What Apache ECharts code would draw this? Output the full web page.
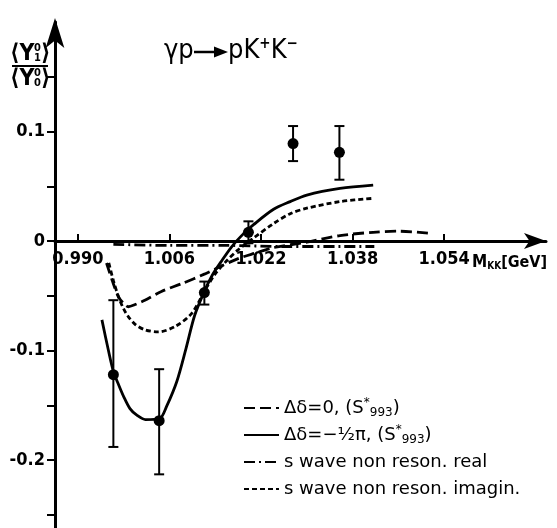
<!DOCTYPE html>
<html><head><meta charset="utf-8">
<script src="https://cdn.jsdelivr.net/npm/echarts@6/dist/echarts.min.js"></script>
<style>html,body{margin:0;padding:0;background:#fff}#c{width:557px;height:528px}</style>
</head><body><div id="c"></div>
<script>
// measured points: <Y1^0>/<Y0^0> vs M_KK [GeV]
const massPoints   = [0.9962, 1.0042, 1.0121, 1.0198, 1.0276, 1.0357];
const ratioValues  = [-0.122, -0.164, -0.047, 0.008, 0.089, 0.081];
const ratioErrLow  = [-0.188, -0.213, -0.058, -0.002, 0.073, 0.056];
const ratioErrHigh = [-0.054, -0.117, -0.037, 0.018, 0.105, 0.105];

// curve: delta = 0 (S*993)  (long dash)
const delta0Mass  = [0.9950,0.9960,0.9971,0.9980,0.9988,1.0000,1.0017,1.0046,1.0081,1.0122,1.0150,1.0180,1.0210,1.0242,1.0300,1.0358,1.0416,1.0460,1.0518];
const delta0Ratio = [-0.020,-0.036,-0.051,-0.057,-0.060,-0.058,-0.054,-0.046,-0.039,-0.030,-0.023,-0.016,-0.011,-0.006,-0.001,0.005,0.008,0.009,0.007];

// curve: delta = -pi/2 (S*993)  (solid)
const deltaHalfPiMass  = [0.9942,0.9953,0.9962,0.9971,0.9980,0.9991,1.0003,1.0018,1.0043,1.0055,1.0073,1.0089,1.0104,1.0121,1.0135,1.0150,1.0169,1.0190,1.0207,1.0242,1.0271,1.0300,1.0358,1.0416];
const deltaHalfPiRatio = [-0.072,-0.099,-0.119,-0.131,-0.142,-0.153,-0.159,-0.163,-0.162,-0.151,-0.128,-0.098,-0.068,-0.046,-0.031,-0.019,-0.005,0.007,0.015,0.029,0.036,0.042,0.048,0.051];

// curve: s wave non reson. real  (dash-dot)
const sRealMass  = [0.9962,1.0060,1.0160,1.0260,1.0360,1.0418];
const sRealRatio = [-0.003,-0.004,-0.004,-0.005,-0.005,-0.005];

// curve: s wave non reson. imagin.  (short dash)
const sImagMass  = [0.9954,0.9962,0.9971,0.9980,0.9988,1.0000,1.0017,1.0040,1.0070,1.0099,1.0122,1.0140,1.0160,1.0180,1.0205,1.0242,1.0271,1.0300,1.0358,1.0416];
const sImagRatio = [-0.020,-0.036,-0.051,-0.062,-0.069,-0.076,-0.081,-0.083,-0.078,-0.066,-0.045,-0.030,-0.018,-0.008,0.002,0.016,0.025,0.030,0.036,0.039];

const xTickValues  = [0.990, 1.006, 1.022, 1.038, 1.054];
const yTickValues  = [-0.25, -0.2, -0.15, -0.1, -0.05, 0, 0.05, 0.1, 0.15];
const yLabelValues = [-0.2, -0.1, 0, 0.1];

const seriesNames = ['delta0', 'deltaHalfPi', 'sReal', 'sImag'];
const legendLabels = {
  delta0: 'Δδ=0, (S{sup|*}{sub|993})',
  deltaHalfPi: 'Δδ=−½π, (S{sup|*}{sub|993})',
  sReal: 's wave non reson. real',
  sImag: 's wave non reson. imagin.'
};

const zip = (a, b) => a.map((v, i) => [v, b[i]]);
const cond = "'DejaVu Sans Condensed','DejaVu Sans',sans-serif";
const textFont = "'DejaVu Sans',sans-serif";

function curve(name, xs, ys, type) {
  return {
    name, type: 'line', data: zip(xs, ys), smooth: 0.3,
    symbol: 'none', showSymbol: false,
    lineStyle: { color: '#000', width: 2.8, type },
    itemStyle: { color: '#000' }, z: 3
  };
}

const Y_MIN = -0.262, Y_MAX = 0.2, GRID_TOP = 22, H = 528;
const zeroOffset = -(H - GRID_TOP) * (0 - Y_MIN) / (Y_MAX - Y_MIN);

const chart = echarts.init(document.getElementById('c'), null, { renderer: 'canvas' });
chart.setOption({
  animation: false,
  backgroundColor: '#fff',
  grid: { left: 55, right: 11, top: GRID_TOP, bottom: 0, containLabel: false, outerBoundsMode: 'none' },
  xAxis: {
    type: 'value', min: 0.986, max: 1.0718, position: 'bottom', offset: zeroOffset,
    axisLine: { show: true, onZero: false, symbol: ['none', 'arrow'], symbolSize: [12, 22],
      lineStyle: { color: '#000', width: 3 } },
    axisTick: { show: true, inside: true, length: 7, customValues: xTickValues,
      lineStyle: { color: '#000', width: 2 } },
    axisLabel: { customValues: xTickValues, formatter: v => v.toFixed(3), margin: 9,
      color: '#000', fontSize: 18, fontWeight: 'bold', fontFamily: cond },
    splitLine: { show: false }
  },
  yAxis: {
    type: 'value', min: Y_MIN, max: Y_MAX,
    axisLine: { show: true, onZero: false, symbol: ['none', 'arrow'], symbolSize: [14, 30],
      symbolOffset: [0, 4], lineStyle: { color: '#000', width: 3 } },
    axisTick: { show: true, inside: false, length: 8, customValues: yTickValues,
      lineStyle: { color: '#000', width: 2 } },
    axisLabel: { customValues: yLabelValues, formatter: v => (Math.abs(v) < 1e-9 ? '0' : String(Number(v.toFixed(1)))),
      margin: 10, color: '#000', fontSize: 18, fontWeight: 'bold', fontFamily: cond },
    splitLine: { show: false }
  },
  legend: {
    data: seriesNames, orient: 'vertical', left: 243, top: 397, padding: 0,
    itemWidth: 35, itemHeight: 14, itemGap: 5, selectedMode: false,
    itemStyle: { color: 'rgba(0,0,0,0)', borderWidth: 0, opacity: 0 },
    formatter: n => legendLabels[n],
    textStyle: { fontFamily: textFont, fontSize: 18, color: '#000', lineHeight: 22,
      rich: {
        sup: { fontFamily: textFont, fontSize: 12, color: '#000', verticalAlign: 'top' },
        sub: { fontFamily: textFont, fontSize: 12, color: '#000', verticalAlign: 'bottom' }
      } }
  },
  graphic: [
    // y-axis name: <Y1^0>/<Y0^0>
    { type: 'text', left: 10, top: 43, style: { text: '⟨Y', font: "bold 23px " + cond, fill: '#000' } },
    { type: 'text', left: 34, top: 43, style: { text: '0', font: "bold 11px " + cond, fill: '#000' } },
    { type: 'text', left: 34, top: 53, style: { text: '1', font: "bold 11px " + cond, fill: '#000' } },
    { type: 'text', left: 41, top: 43, style: { text: '⟩', font: "bold 23px " + cond, fill: '#000' } },
    { type: 'line', shape: { x1: 12, y1: 66, x2: 48, y2: 66 }, style: { stroke: '#000', lineWidth: 2 } },
    { type: 'text', left: 10, top: 68, style: { text: '⟨Y', font: "bold 23px " + cond, fill: '#000' } },
    { type: 'text', left: 34, top: 68, style: { text: '0', font: "bold 11px " + cond, fill: '#000' } },
    { type: 'text', left: 34, top: 78, style: { text: '0', font: "bold 11px " + cond, fill: '#000' } },
    { type: 'text', left: 41, top: 68, style: { text: '⟩', font: "bold 23px " + cond, fill: '#000' } },
    // reaction title
    { type: 'text', left: 164, top: 37, style: { text: 'γp', font: "27px " + cond, fill: '#000' } },
    { type: 'line', shape: { x1: 194, y1: 52, x2: 218, y2: 52 }, style: { stroke: '#000', lineWidth: 2.5 } },
    { type: 'polygon', shape: { points: [[214, 46.5], [228, 52], [214, 57.5]] }, style: { fill: '#000' } },
    { type: 'text', left: 228, top: 37, style: {
        text: '{b|pK}{s|+}{b|K}{s|−}',
        rich: {
          b: { font: "27px " + cond, fill: '#000', lineHeight: 30, verticalAlign: 'top' },
          s: { font: "bold 15px " + cond, fill: '#000', verticalAlign: 'top' }
        } } },
    // x-axis name
    { type: 'text', left: 472, top: 254, style: {
        text: '{m|M}{s|KK}{n|[GeV]}',
        rich: {
          m: { font: "bold 17px " + cond, fill: '#000', lineHeight: 20, verticalAlign: 'bottom' },
          s: { font: "bold 10px " + cond, fill: '#000', verticalAlign: 'bottom' },
          n: { font: "bold 16px " + cond, fill: '#000', verticalAlign: 'bottom' }
        } } }
  ],
  series: [
    curve('delta0', delta0Mass, delta0Ratio, [11, 5]),
    curve('deltaHalfPi', deltaHalfPiMass, deltaHalfPiRatio, 'solid'),
    curve('sReal', sRealMass, sRealRatio, [11, 4, 2, 4]),
    curve('sImag', sImagMass, sImagRatio, [5, 3]),
    {
      name: 'errors', type: 'custom', z: 5,
      data: massPoints.map((m, i) => [m, ratioErrLow[i], ratioErrHigh[i]]),
      encode: { x: 0, y: [1, 2] },
      renderItem(params, api) {
        const x = api.value(0);
        const lo = api.coord([x, api.value(1)]);
        const hi = api.coord([x, api.value(2)]);
        const w = 5;
        const st = { stroke: '#000', lineWidth: 2 };
        return { type: 'group', children: [
          { type: 'line', shape: { x1: lo[0], y1: lo[1], x2: hi[0], y2: hi[1] }, style: st },
          { type: 'line', shape: { x1: lo[0] - w, y1: lo[1], x2: lo[0] + w, y2: lo[1] }, style: st },
          { type: 'line', shape: { x1: hi[0] - w, y1: hi[1], x2: hi[0] + w, y2: hi[1] }, style: st }
        ] };
      }
    },
    {
      name: 'points', type: 'scatter', z: 6, symbol: 'circle', symbolSize: 11,
      data: zip(massPoints, ratioValues), itemStyle: { color: '#000', opacity: 1 }
    }
  ]
});
</script></body></html>
